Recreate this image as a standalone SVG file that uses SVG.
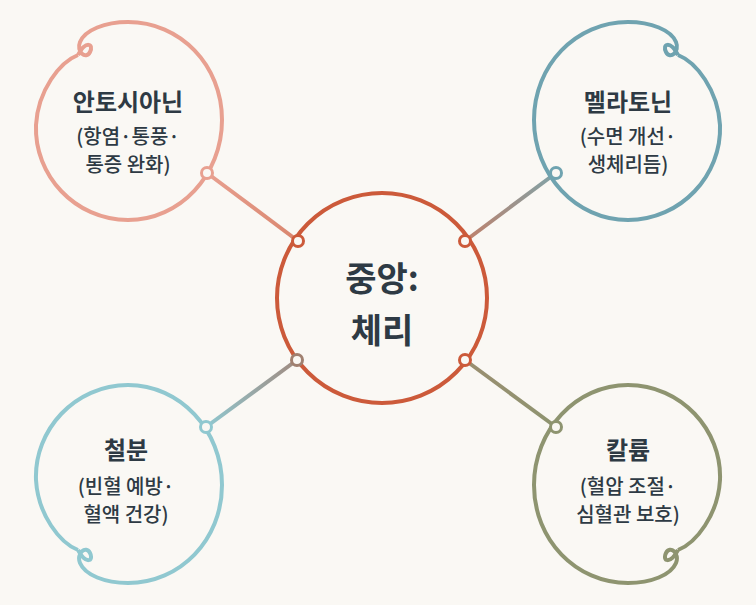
<svg xmlns="http://www.w3.org/2000/svg" width="756" height="605" viewBox="0 0 756 605">
<defs>
<linearGradient id="gtl" gradientUnits="userSpaceOnUse" x1="207" y1="173" x2="298" y2="241"><stop offset="0" stop-color="#E8A090"/><stop offset="1" stop-color="#D9866E"/></linearGradient>
<linearGradient id="gtr" gradientUnits="userSpaceOnUse" x1="465" y1="241" x2="556" y2="173"><stop offset="0" stop-color="#C0806A"/><stop offset="1" stop-color="#7FA3A8"/></linearGradient>
<linearGradient id="gbl" gradientUnits="userSpaceOnUse" x1="297" y1="360" x2="206" y2="427"><stop offset="0" stop-color="#A08A80"/><stop offset="1" stop-color="#90C8D0"/></linearGradient>
<linearGradient id="gbr" gradientUnits="userSpaceOnUse" x1="465" y1="360" x2="556" y2="427"><stop offset="0" stop-color="#9A8E70"/><stop offset="1" stop-color="#8E9470"/></linearGradient>
</defs>
<style>
.t{font-family:"Noto Sans CJK KR","Noto Sans",sans-serif;fill:#2E3A44;text-anchor:middle}
.h{font-size:24px;font-weight:700}
.s{font-size:20px;font-weight:500}
.c{font-size:34px;font-weight:700}
.dot{fill:#FAF8F4;stroke-width:3}
.ring{fill:none;stroke-width:4}
.ln{stroke-width:4;fill:none}
</style>
<rect width="756" height="605" fill="#FAF8F4"/>
<g id="connectors">
<line class="ln" x1="207" y1="173" x2="298" y2="241" stroke="url(#gtl)"/>
<line class="ln" x1="465" y1="241" x2="556" y2="173" stroke="url(#gtr)"/>
<line class="ln" x1="297" y1="360" x2="206" y2="427" stroke="url(#gbl)"/>
<line class="ln" x1="465" y1="360" x2="556" y2="427" stroke="url(#gbr)"/>
</g>
<g id="center">
<circle class="ring" cx="382" cy="298" r="105" stroke="#CC5A3A"/>
<text class="t c" x="382" y="291">중앙:</text>
<text class="t c" x="382" y="343">체리</text>
<circle class="dot" cx="298" cy="241" r="5.5" stroke="#CC5A3A"/>
<circle class="dot" cx="465" cy="241" r="5.5" stroke="#CC5A3A"/>
<circle class="dot" cx="297" cy="360" r="5.5" stroke="#A08070"/>
<circle class="dot" cx="465" cy="360" r="5.5" stroke="#CC5A3A"/>
</g>
<g id="n-tl">
<path class="ring" stroke="#E8A090" d="M78,55 C60,62 38,90 36,125 C34,175 75,220 128,220 C180,220 222,175 222,120 C222,65 180,22 128,22 C105,22 85,30 80,42 C76,52 86,60 90,52 C94,44 86,40 78,55"/>
<text class="t h" x="128" y="111">안토시아닌</text>
<text class="t s" x="128" y="144">(항염·통풍·</text>
<text class="t s" x="128" y="172">통증 완화)</text>
<circle class="dot" cx="207" cy="173" r="5.5" stroke="#E8A090"/>
</g>
<g id="n-tr">
<path class="ring" stroke="#6FA3B0" d="M678,55 C696,62 718,90 720,125 C722,175 681,220 628,220 C576,220 534,175 534,120 C534,65 576,22 628,22 C651,22 671,30 676,42 C680,52 670,60 666,52 C662,44 670,40 678,55"/>
<text class="t h" x="628" y="111">멜라토닌</text>
<text class="t s" x="628" y="144">(수면 개선·</text>
<text class="t s" x="628" y="172">생체리듬)</text>
<circle class="dot" cx="556" cy="173" r="5.5" stroke="#6FA3B0"/>
</g>
<g id="n-bl">
<path class="ring" stroke="#90C8D0" d="M78,550 C60,543 38,515 36,480 C34,430 75,385 128,385 C180,385 222,430 222,485 C222,540 180,583 128,583 C105,583 85,575 80,563 C76,553 86,545 90,553 C94,561 86,565 78,550"/>
<text class="t h" x="126" y="459">철분</text>
<text class="t s" x="126" y="494">(빈혈 예방·</text>
<text class="t s" x="126" y="522">혈액 건강)</text>
<circle class="dot" cx="206" cy="427" r="5.5" stroke="#90C8D0"/>
</g>
<g id="n-br">
<path class="ring" stroke="#8E9470" d="M678,550 C696,543 718,515 720,480 C722,430 681,385 628,385 C576,385 534,430 534,485 C534,540 576,583 628,583 C651,583 671,575 676,563 C680,553 670,545 666,553 C662,561 670,565 678,550"/>
<text class="t h" x="628" y="459">칼륨</text>
<text class="t s" x="628" y="494">(혈압 조절·</text>
<text class="t s" x="628" y="522">심혈관 보호)</text>
<circle class="dot" cx="556" cy="427" r="5.5" stroke="#8E9470"/>
</g>
</svg>
